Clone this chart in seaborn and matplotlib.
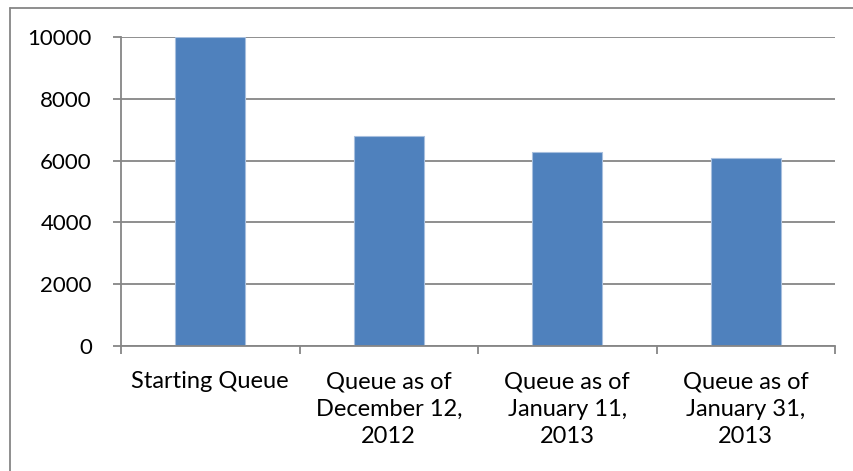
import matplotlib
matplotlib.use('Agg')
import matplotlib.pyplot as plt
import seaborn as sns
import pandas as pd
from matplotlib.lines import Line2D

# chart data
categories = ['Starting Queue',
              'Queue as of\nDecember 12,\n2012',
              'Queue as of\nJanuary 11,\n2013',
              'Queue as of\nJanuary 31,\n2013']
queue_size = [10000, 6800, 6280, 6070]
y_ticks = [0, 2000, 4000, 6000, 8000, 10000]

df = pd.DataFrame({'stage': categories, 'queue': queue_size})

sns.set_theme(style='white')
plt.rcParams['font.family'] = ['Lato', 'DejaVu Sans']

fig = plt.figure(figsize=(8.54, 4.71), dpi=100)
ax = fig.add_axes([121 / 854, 1 - 346 / 471, (835 - 121) / 854, (346 - 37) / 471])

grid_col = '#868686'
ax.set_axisbelow(True)
for t in y_ticks:
    ax.axhline(t, color=grid_col, lw=1.3, zorder=0)

sns.barplot(data=df, x='stage', y='queue', color='#4F81BD', width=0.39,
            edgecolor='#A7BFDE', linewidth=0.8, saturation=1, ax=ax, zorder=2)

ax.set_xlim(-0.5, 3.5)
ax.set_ylim(0, 10000)
ax.set_yticks(y_ticks)
ax.set_yticklabels([str(t) for t in y_ticks], fontsize=16, color='black')
ax.set_xticks(range(len(categories)))
ax.set_xticklabels(categories, fontsize=17, color='black', linespacing=1.39, va='top')
ax.set_xticks([-0.5, 0.5, 1.5, 2.5, 3.5], minor=True)
ax.tick_params(axis='x', which='major', length=0, pad=18)
ax.tick_params(axis='x', which='minor', length=6, width=1.3, color=grid_col, direction='out', bottom=True)
ax.tick_params(axis='y', length=6, width=1.3, color=grid_col, direction='out', left=True, pad=15)
ax.set_xlabel('')
ax.set_ylabel('')

for side in ['top', 'right']:
    ax.spines[side].set_visible(False)
for side in ['left', 'bottom']:
    ax.spines[side].set_color(grid_col)
    ax.spines[side].set_linewidth(1.3)

# outer chart border (left and top visible)
fig.add_artist(Line2D([10.5 / 854, 10.5 / 854], [0, 1 - 7.5 / 471], color=grid_col, lw=1.3))
fig.add_artist(Line2D([10.5 / 854, 1], [1 - 7.5 / 471, 1 - 7.5 / 471], color=grid_col, lw=1.3))

fig.savefig('out.png', dpi=100, facecolor='white')
